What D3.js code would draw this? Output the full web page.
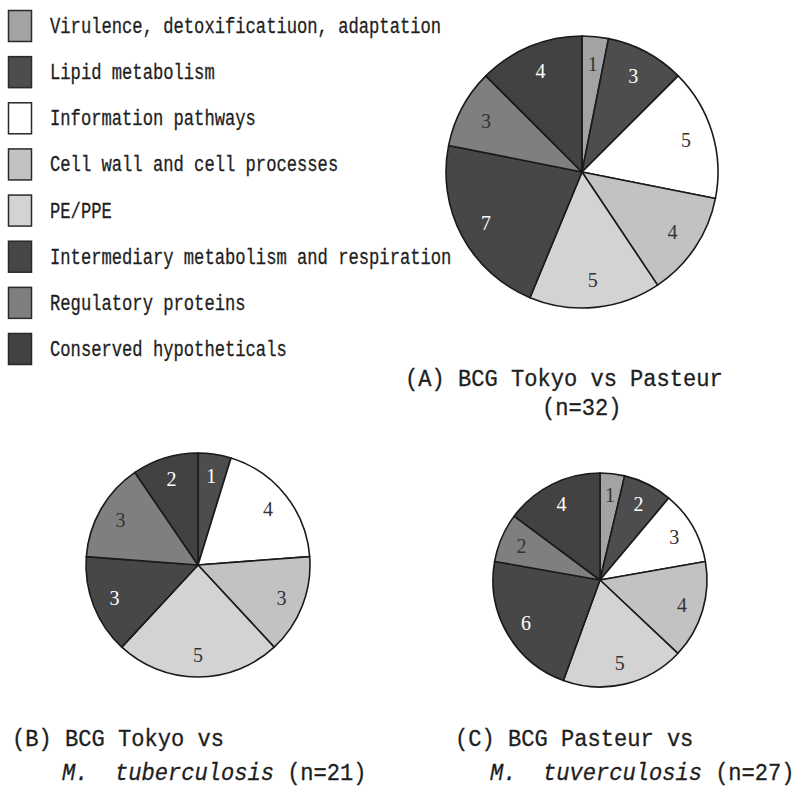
<!doctype html>
<html>
  <head>
    <style>
      body { margin: 0; background: #fff; }
      text { white-space: pre; }
    </style>
  </head>
  <body>
    <svg width="805" height="789" id="content"></svg>

    <script src="https://cdnjs.cloudflare.com/ajax/libs/d3/7.8.5/d3.min.js"></script>
    <script>
      // categories, same order in legend and in every pie (clockwise from 12 o'clock)
      const categories = [
        'Virulence, detoxificatiuon, adaptation',
        'Lipid metabolism',
        'Information pathways',
        'Cell wall and cell processes',
        'PE/PPE',
        'Intermediary metabolism and respiration',
        'Regulatory proteins',
        'Conserved hypotheticals'
      ]
      const fills = ['#a3a3a3', '#4d4d4d', '#ffffff', '#c2c2c2', '#d3d3d3', '#474747', '#7f7f7f', '#424242']
      const labelFills = ['#333', '#fff', '#333', '#333', '#333', '#fff', '#333', '#fff']

      const tokyoVsPasteur = [1, 3, 5, 4, 5, 7, 3, 4]
      const tokyoVsMtb = [0, 1, 4, 3, 5, 3, 3, 2]
      const pasteurVsMtb = [1, 2, 3, 4, 5, 6, 2, 4]

      const svg = d3.select('#content')
      const monoFont = '"Liberation Mono", "DejaVu Sans Mono", monospace'

      const color = d3.scaleOrdinal().domain(categories).range(fills)
      const labelColor = d3.scaleOrdinal().domain(categories).range(labelFills)

      // legend
      const legendY = d3.scalePoint().domain(categories).range([10, 333])
      const legend = svg.append('g').attr('class', 'legend')
      const rows = legend.selectAll('g').data(categories).join('g')
        .attr('transform', d => `translate(0, ${legendY(d)})`)
      rows.append('rect')
        .attr('x', 8.5)
        .attr('y', 0.5)
        .attr('width', 23)
        .attr('height', 31)
        .style('fill', d => color(d))
        .style('stroke', '#2a2a2a')
        .style('stroke-width', 1.5)
      rows.append('text')
        .attr('transform', 'translate(50, 23) scale(0.78, 1)')
        .style('font-family', monoFont)
        .style('font-size', '22px')
        .style('fill', '#1e1e1e')
        .style('stroke', '#1e1e1e')
        .style('stroke-width', 0.3)
        .text(d => d)

      function drawPie (values, cx, cy, r) {
        const data = categories.map((c, i) => ({ key: c, value: values[i] }))
        const pie = d3.pie().sort(null).value(d => d.value)
        const arcs = pie(data).filter(d => d.data.value > 0)
        const arc = d3.arc().innerRadius(0).outerRadius(r)
        const labelArc = d3.arc().innerRadius(r * 0.8).outerRadius(r * 0.8)

        const g = svg.append('g').attr('transform', `translate(${cx}, ${cy})`)
        g.selectAll('path').data(arcs).join('path')
          .attr('d', arc)
          .style('fill', d => color(d.data.key))
          .style('stroke', '#1a1a1a')
          .style('stroke-width', 1.6)
          .style('stroke-linejoin', 'round')
        g.selectAll('text').data(arcs).join('text')
          .attr('x', d => labelArc.centroid(d)[0])
          .attr('y', d => labelArc.centroid(d)[1])
          .attr('text-anchor', 'middle')
          .attr('dy', '0.35em')
          .style('font-family', '"Liberation Serif", "DejaVu Serif", serif')
          .style('font-size', '20px')
          .style('fill', d => labelColor(d.data.key))
          .text(d => d.data.value)
      }

      drawPie(tokyoVsPasteur, 582, 172, 136)
      drawPie(tokyoVsMtb, 198, 565, 112)
      drawPie(pasteurVsMtb, 600, 580, 107)

      // captions
      function caption (x, y, parts) {
        const t = svg.append('text')
          .attr('transform', `translate(${x}, ${y}) scale(0.96, 1)`)
          .style('font-family', monoFont)
          .style('font-size', '23px')
          .style('fill', '#1e1e1e')
          .style('stroke', '#1e1e1e')
          .style('stroke-width', 0.3)
        parts.forEach(p => {
          t.append('tspan')
            .style('font-style', p.italic ? 'italic' : 'normal')
            .text(p.text)
        })
      }

      caption(405, 386, [{ text: '(A) BCG Tokyo vs Pasteur' }])
      caption(542, 415, [{ text: '(n=32)' }])
      caption(12, 746, [{ text: '(B) BCG Tokyo vs' }])
      caption(62, 780, [{ text: 'M.  tuberculosis', italic: true }, { text: ' (n=21)' }])
      caption(455, 746, [{ text: '(C) BCG Pasteur vs' }])
      caption(490, 780, [{ text: 'M.  tuverculosis', italic: true }, { text: ' (n=27)' }])
    </script>
  </body>
</html>
